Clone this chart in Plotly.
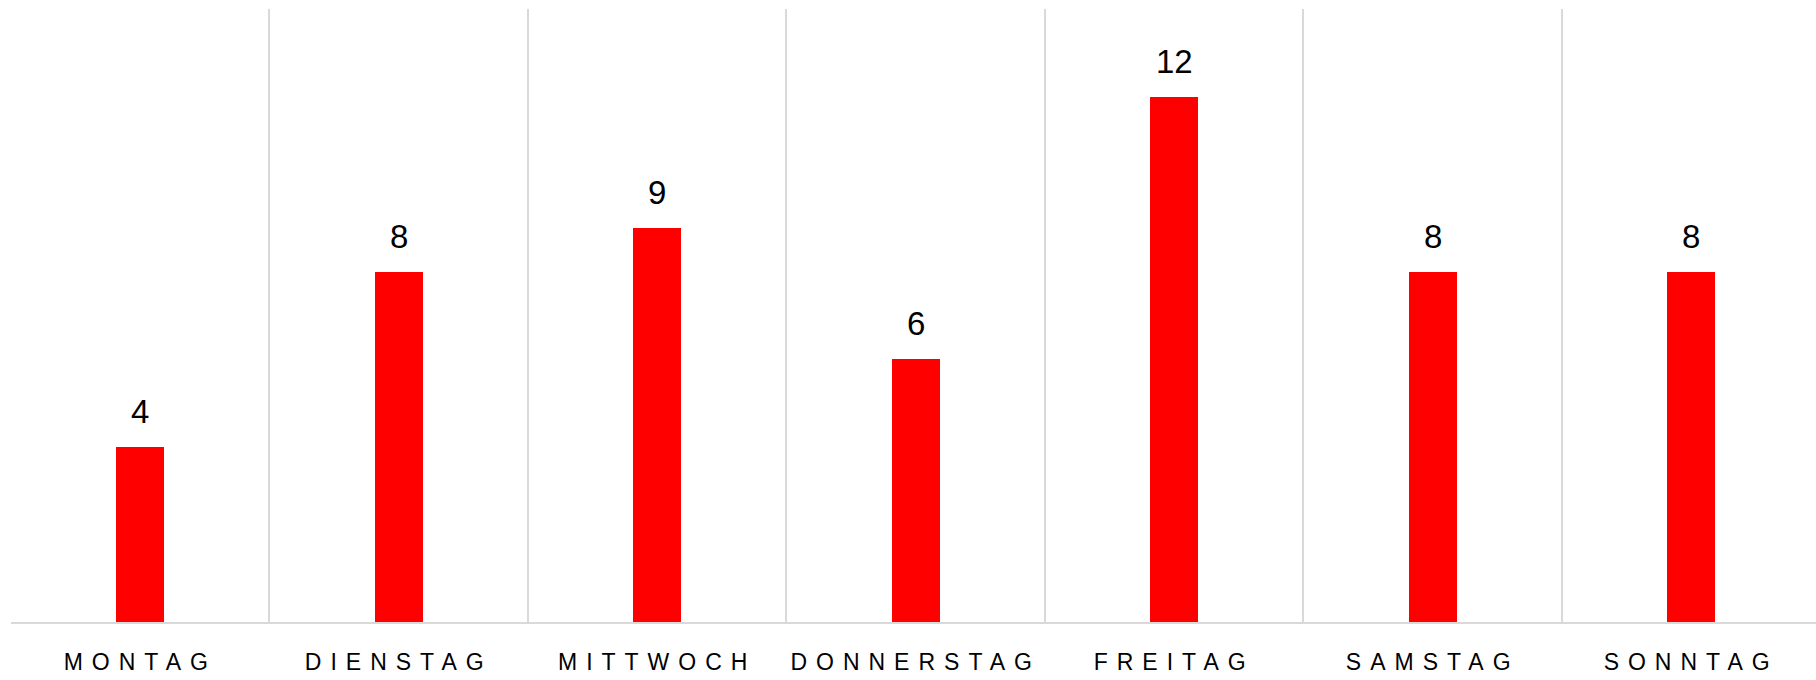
import plotly.graph_objects as go

days = ["MONTAG", "DIENSTAG", "MITTWOCH", "DONNERSTAG", "FREITAG", "SAMSTAG", "SONNTAG"]
values = [4, 8, 9, 6, 12, 8, 8]

fig = go.Figure()
fig.add_trace(go.Bar(
    x=days, y=values, width=0.185,
    marker=dict(color="#FF0000", line=dict(width=0)),
    hoverinfo="skip",
))
for d, v in zip(days, values):
    fig.add_annotation(
        x=d, y=v, text=str(v), showarrow=False,
        xanchor="center", yanchor="bottom", yshift=15,
        font=dict(family="Liberation Sans, Arial, sans-serif", size=33, color="#000000"),
    )

fig.update_layout(
    width=1816, height=680,
    margin=dict(l=11, r=0, t=9, b=58),
    paper_bgcolor="#FFFFFF", plot_bgcolor="#FFFFFF",
    showlegend=False,
    bargap=0,
)
fig.update_xaxes(
    type="category",
    tickson="boundaries",
    range=[-0.5, 6.483],
    showgrid=True, gridcolor="#D9D9D9", gridwidth=2,
    showline=True, linecolor="#D9D9D9", linewidth=2,
    ticks="", ticklabelstandoff=18,
    tickfont=dict(family="Liberation Sans, Arial, sans-serif", size=23, color="#000000"),
)
fig.update_yaxes(
    range=[0, 14], showgrid=False, zeroline=False, showticklabels=False, ticks="",
)

css = ("var s=document.createElement('style');"
       "s.innerHTML='html,body{margin:0;padding:0;overflow:hidden;} .xtick text{letter-spacing:9px;}';"
       "document.head.appendChild(s);")
fig.write_html("out.html", post_script=css, config={"displayModeBar": False})
